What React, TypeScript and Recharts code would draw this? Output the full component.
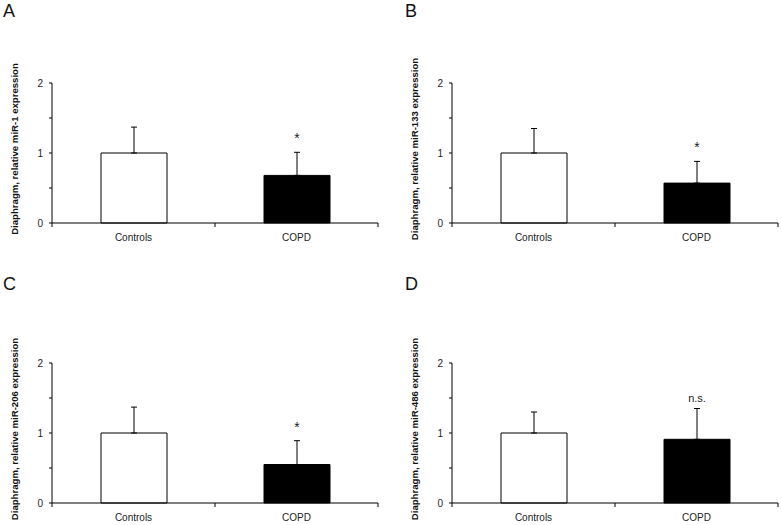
import React from "react";
import { BarChart, Bar, XAxis, YAxis, ErrorBar, Cell, LabelList, Label } from "recharts";

const categories = ["Controls", "COPD"];
const panelLetters = ["A", "B", "C", "D"];
const microRNAs = ["miR-1", "miR-133", "miR-206", "miR-486"];
const controlMeans = [1, 1, 1, 1];
const controlSD = [0.37, 0.35, 0.37, 0.3];
const copdMeans = [0.68, 0.57, 0.55, 0.91];
const copdSD = [0.33, 0.31, 0.34, 0.44];
const significance = ["*", "*", "*", "n.s."];
const yTicks = [0, 0.5, 1, 1.5, 2];

// layout / styling (not data)
const barFills = ["#ffffff", "#000000"];
const CHART_W = 382;
const CHART_H = 245;
const PLOT_W = 326;
const BAND = PLOT_W / categories.length;
const panelLayout = [
  { left: 0, top: 0, letterLeft: 3, letterTop: 2 },
  { left: 400, top: 0, letterLeft: 405, letterTop: 2 },
  { left: 0, top: 280, letterLeft: 3, letterTop: 275 },
  { left: 400, top: 280, letterLeft: 405, letterTop: 275 },
];

const XTick = (props: any) => {
  const { x, y, payload } = props;
  const last = payload.value === categories[categories.length - 1];
  return (
    <g>
      <line x1={x - BAND / 2} x2={x - BAND / 2} y1={y} y2={y + 4} stroke="#000" />
      {last && <line x1={x + BAND / 2} x2={x + BAND / 2} y1={y} y2={y + 4} stroke="#000" />}
      <text x={x} y={y + 18} textAnchor="middle" fontSize={10} fill="#222">
        {payload.value}
      </text>
    </g>
  );
};

const YTick = (props: any) => {
  const { x, y, payload } = props;
  const v = payload.value;
  return (
    <g>
      <line x1={x - 3} x2={x} y1={y} y2={y} stroke="#000" />
      {Number.isInteger(v) && (
        <text x={x - 9} y={y} textAnchor="end" dominantBaseline="central" fontSize={10} fill="#222">
          {v}
        </text>
      )}
    </g>
  );
};

const YLabel = (props: any) => {
  const { viewBox, value } = props;
  const cx = viewBox.x + 14;
  const cy = viewBox.y + viewBox.height / 2 - 4;
  return (
    <text
      x={cx}
      y={cy}
      transform={`rotate(-90 ${cx} ${cy})`}
      textAnchor="middle"
      dominantBaseline="central"
      fontSize={9.6}
      fontWeight="bold"
      fill="#111"
    >
      {value}
    </text>
  );
};

const Panel = ({ idx }: { idx: number }) => {
  const data = categories.map((name, i) => {
    const mean = i === 0 ? controlMeans[idx] : copdMeans[idx];
    const sd = i === 0 ? controlSD[idx] : copdSD[idx];
    return { name, mean, sd, err: [0, sd], sig: i === 0 ? "" : significance[idx] };
  });

  const renderSig = (p: any) => {
    const { x, y, width, height, value, index } = p;
    if (!value) return null;
    const row = data[index];
    const errTop = y - height * (row.sd / row.mean);
    const star = value === "*";
    return (
      <text
        x={x + width / 2}
        y={errTop - (star ? 9 : 7)}
        textAnchor="middle"
        fontSize={star ? 14 : 11}
        fill="#222"
      >
        {value}
      </text>
    );
  };

  const lay = panelLayout[idx];
  return (
    <>
      <div
        style={{
          position: "absolute",
          left: lay.letterLeft,
          top: lay.letterTop,
          fontSize: 18,
          lineHeight: "18px",
          color: "#111",
        }}
      >
        {panelLetters[idx]}
      </div>
      <div style={{ position: "absolute", left: lay.left, top: lay.top }}>
        <BarChart width={CHART_W} height={CHART_H} data={data} margin={{ top: 83, right: 4, bottom: 0, left: 0 }}>
          <XAxis
            dataKey="name"
            axisLine={{ stroke: "#000" }}
            tickLine={false}
            tickSize={0}
            tickMargin={0}
            tick={<XTick />}
            interval={0}
            height={22}
          />
          <YAxis
            width={52}
            domain={[0, 2]}
            ticks={yTicks}
            interval={0}
            axisLine={{ stroke: "#000" }}
            tickLine={false}
            tickSize={0}
            tickMargin={0}
            tick={<YTick />}
          >
            <Label value={`Diaphragm, relative ${microRNAs[idx]} expression`} content={<YLabel />} />
          </YAxis>
          <Bar dataKey="mean" barSize={66} stroke="#000" strokeWidth={1} isAnimationActive={false}>
            {data.map((_, i) => (
              <Cell key={i} fill={barFills[i]} />
            ))}
            <ErrorBar dataKey="err" direction="y" width={3} stroke="#000" strokeWidth={1} />
            <LabelList dataKey="sig" content={renderSig} />
          </Bar>
        </BarChart>
      </div>
    </>
  );
};

export default function App() {
  return (
    <div
      style={{
        position: "absolute",
        left: 0,
        top: 0,
        width: 782,
        height: 525,
        overflow: "hidden",
        background: "#fff",
        fontFamily: '"Liberation Sans", Arial, sans-serif',
      }}
    >
      {panelLetters.map((_, i) => (
        <Panel key={i} idx={i} />
      ))}
    </div>
  );
}
